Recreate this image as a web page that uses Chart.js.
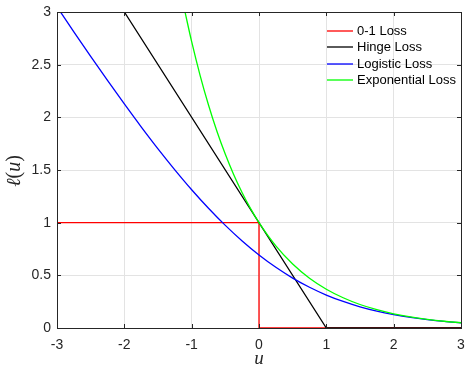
<!DOCTYPE html>
<html>
<head>
<meta charset="utf-8">
<script src="https://cdn.jsdelivr.net/npm/chart.js@4/dist/chart.umd.min.js"></script>
<style>
html,body{margin:0;padding:0;background:#fff;}
#wrap{width:466px;height:368px;position:relative;}
</style>
</head>
<body>
<div id="wrap"><canvas id="c" width="466" height="368"></canvas></div>
<script>
// ---- data ----
const seriesNames = ["0-1 Loss", "Hinge Loss", "Logistic Loss", "Exponential Loss"];
const seriesColors = ["#ff0000", "#000000", "#0000ff", "#00ff00"];

const zeroOneU    = [-3, 0, 0, 3];
const zeroOneLoss = [1, 1, 0, 0];

const hingeU    = [-2, 1, 3];
const hingeLoss = [3, 0, 0];

const logisticU    = [-3, -2.75, -2.5, -2.25, -2, -1.75, -1.5, -1.25, -1, -0.75, -0.5, -0.25, 0, 0.25, 0.5, 0.75, 1, 1.25, 1.5, 1.75, 2, 2.25, 2.5, 2.75, 3];
const logisticLoss = [3.049, 2.812, 2.579, 2.350, 2.127, 1.910, 1.701, 1.502, 1.313, 1.137, 0.974, 0.826, 0.693, 0.576, 0.474, 0.387, 0.313, 0.252, 0.201, 0.160, 0.127, 0.100, 0.079, 0.062, 0.049];

const expU    = [-1.1, -1, -0.875, -0.75, -0.625, -0.5, -0.375, -0.25, -0.125, 0, 0.25, 0.5, 0.75, 1, 1.25, 1.5, 1.75, 2, 2.25, 2.5, 2.75, 3];
const expLoss = [3.004, 2.718, 2.399, 2.117, 1.868, 1.649, 1.455, 1.284, 1.133, 1.000, 0.779, 0.607, 0.472, 0.368, 0.287, 0.223, 0.174, 0.135, 0.105, 0.082, 0.064, 0.050];

const xTickLabels = ["-3", "-2", "-1", "0", "1", "2", "3"];
const yTickLabels = ["0", "0.5", "1", "1.5", "2", "2.5", "3"];
const xTitle = "u";

function pts(xs, ys){ return xs.map((x,i)=>({x:x, y:ys[i]})); }

const INK = "#262626";
const FONT = "'Liberation Sans', Arial, Helvetica, sans-serif";
const SERIF = "'Liberation Serif', 'DejaVu Serif', serif";

const decorPlugin = {
  id: "decor",
  afterDraw(chart){
    const ctx = chart.ctx;
    const a = chart.chartArea;
    const xs = chart.scales.x, ys = chart.scales.y;
    ctx.save();
    // box
    ctx.strokeStyle = INK;
    ctx.lineWidth = 1;
    ctx.beginPath();
    ctx.rect(Math.round(a.left)+0.5, Math.round(a.top)+0.5, Math.round(a.right-a.left), Math.round(a.bottom-a.top));
    ctx.stroke();
    // inward ticks
    const tl = 4;
    ctx.beginPath();
    xs.ticks.forEach(t=>{
      const px = Math.round(xs.getPixelForValue(t.value))+0.5;
      ctx.moveTo(px, a.bottom); ctx.lineTo(px, a.bottom - tl);
      ctx.moveTo(px, a.top); ctx.lineTo(px, a.top + tl);
    });
    ys.ticks.forEach(t=>{
      const py = Math.round(ys.getPixelForValue(t.value))+0.5;
      ctx.moveTo(a.left, py); ctx.lineTo(a.left + tl, py);
      ctx.moveTo(a.right, py); ctx.lineTo(a.right - tl, py);
    });
    ctx.stroke();

    // legend
    const lx0 = 327, lx1 = 353, tx = 357;
    const rows = [31, 47, 64, 80];
    ctx.font = "13px " + FONT;
    ctx.textBaseline = "middle";
    ctx.textAlign = "left";
    seriesNames.forEach((n,i)=>{
      ctx.strokeStyle = seriesColors[i];
      ctx.lineWidth = 1.3;
      ctx.beginPath();
      ctx.moveTo(lx0, rows[i]); ctx.lineTo(lx1, rows[i]);
      ctx.stroke();
      ctx.fillStyle = "#000";
      ctx.fillText(n, tx, rows[i]);
    });

    // x title
    ctx.fillStyle = INK;
    ctx.font = "italic 19px " + SERIF;
    ctx.textAlign = "center";
    ctx.textBaseline = "middle";
    ctx.fillText(xTitle, (a.left + a.right)/2, 359);

    // y title: ℓ(u)
    ctx.translate(15, 171);
    ctx.rotate(-Math.PI/2);
    const parts = [
      {t:"\u2113", f:"italic 20px " + SERIF},
      {t:"(", f:"20px " + SERIF},
      {t:"u", f:"italic 20px " + SERIF},
      {t:")", f:"20px " + SERIF}
    ];
    let total = 0;
    parts.forEach(p=>{ ctx.font = p.f; p.w = ctx.measureText(p.t).width; total += p.w; });
    let cx = -total/2;
    ctx.textAlign = "left";
    parts.forEach(p=>{ ctx.font = p.f; ctx.fillText(p.t, cx, 0); cx += p.w; });
    ctx.restore();
  }
};

new Chart(document.getElementById("c"), {
  type: "line",
  data: {
    datasets: [
      {label: seriesNames[0], data: pts(zeroOneU, zeroOneLoss), borderColor: seriesColors[0], borderWidth: 1.3, pointRadius: 0, order: 4, tension: 0},
      {label: seriesNames[1], data: pts(hingeU, hingeLoss), borderColor: seriesColors[1], borderWidth: 1.3, pointRadius: 0, order: 3, tension: 0},
      {label: seriesNames[2], data: pts(logisticU, logisticLoss), borderColor: seriesColors[2], borderWidth: 1.3, pointRadius: 0, order: 2, cubicInterpolationMode: "monotone"},
      {label: seriesNames[3], data: pts(expU, expLoss), borderColor: seriesColors[3], borderWidth: 1.3, pointRadius: 0, order: 1, cubicInterpolationMode: "monotone"}
    ]
  },
  options: {
    responsive: false,
    animation: false,
    events: [],
    layout: {padding: {top: 12, right: 5, left: 0, bottom: 0}},
    plugins: {legend: {display: false}, tooltip: {enabled: false}},
    scales: {
      x: {
        type: "linear", min: -3, max: 3,
        afterFit(s){ s.height = 40; s.paddingLeft = 0; s.paddingRight = 0; },
        ticks: {stepSize: 1, color: INK, font: {size: 14, family: FONT}, padding: 9,
          callback: (v)=>{ const i = Math.round(v + 3); return xTickLabels[i] ?? ""; }},
        grid: {color: "#e3e3e3", drawTicks: false},
        border: {display: true, color: INK}
      },
      y: {
        type: "linear", min: 0, max: 3,
        afterFit(s){ s.width = 57; s.paddingTop = 0; s.paddingBottom = 0; },
        ticks: {stepSize: 0.5, color: INK, font: {size: 14, family: FONT}, padding: 6,
          callback: (v)=>{ const i = Math.round(v * 2); return yTickLabels[i] ?? ""; }},
        grid: {color: "#e3e3e3", drawTicks: false},
        border: {display: true, color: INK}
      }
    }
  },
  plugins: [decorPlugin]
});
</script>
</body>
</html>
